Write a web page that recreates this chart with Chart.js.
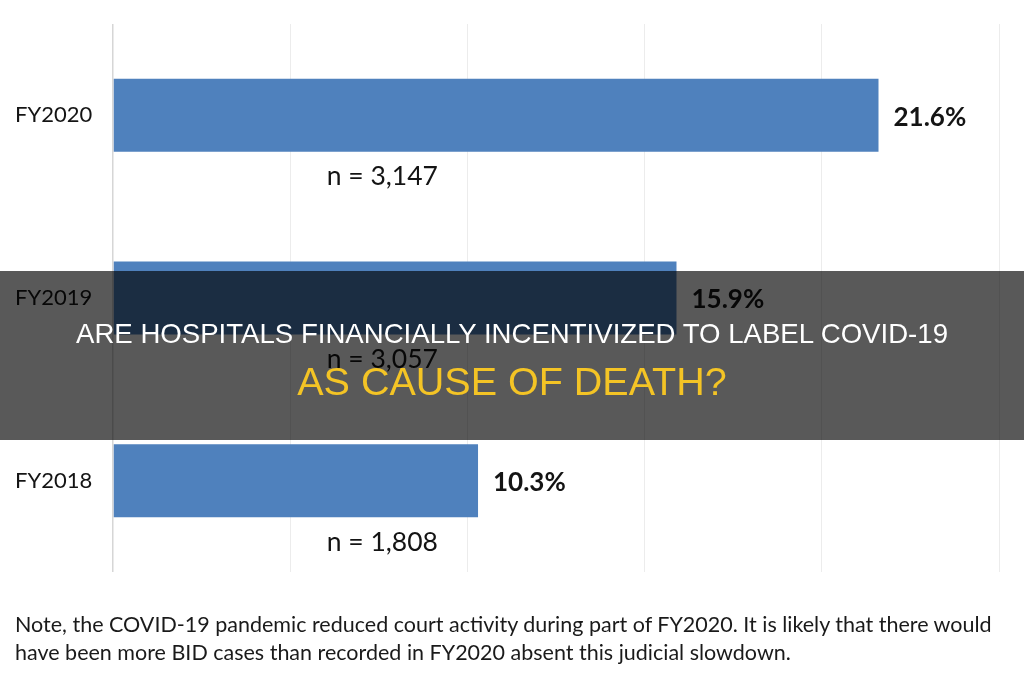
<!DOCTYPE html>
<html lang="en">
<head>
  <meta charset="UTF-8" />
  <title>BID cases by fiscal year</title>
  <script src="https://cdn.jsdelivr.net/npm/chart.js"></script>
  <style>
    body { margin: 0; background: #fff; font-family: Lato, sans-serif; }
    .wrap { position: relative; width: 1024px; height: 680px; overflow: hidden; }
    #bidChart { position: absolute; left: 0; top: 0; }
    /* dark title strip laid over the chart */
    .banner {
      position: absolute; left: 0; top: 271px; width: 1024px; height: 169px;
      background: rgba(0, 0, 0, 0.65);
      font-family: "Liberation Sans", Arial, sans-serif; text-align: center;
    }
    .banner .l1 { position: absolute; left: 0; right: 0; top: 49px; font-size: 27.6px; line-height: 27px; color: #fff; }
    .banner .l2 { position: absolute; left: 0; right: 0; top: 91px; font-size: 39.5px; line-height: 38px; color: #f4c425; }
    .note {
      position: absolute; left: 15px; top: 610px; font-size: 21.5px; line-height: 28px;
      color: #1a1a1a; white-space: nowrap;
    }
  </style>
</head>
<body>
  <div class="wrap">
    <canvas id="bidChart" width="1024" height="680"></canvas>
    <div class="note">Note, the COVID-19 pandemic reduced court activity during part of FY2020. It is likely that there would<br>have been more BID cases than recorded in FY2020 absent this judicial slowdown.</div>
    <div class="banner">
      <div class="l1">ARE HOSPITALS FINANCIALLY INCENTIVIZED TO LABEL COVID-19</div>
      <div class="l2">AS CAUSE OF DEATH?</div>
    </div>
  </div>

  <script>
    // chart data
    const categories = ['FY2020', 'FY2019', 'FY2018'];
    const shares = [21.6, 15.9, 10.3];
    const caseCounts = ['3,147', '3,057', '1,808'];
    const xTicks = [0, 5, 10, 15, 20, 25];
    const countLabelAt = 7.6; // where the "n = ..." notes sit on the x scale

    // draws "21.6%" after each bar and "n = ..." under it
    const barLabels = {
      id: 'barLabels',
      afterDatasetsDraw(chart) {
        const ctx = chart.ctx;
        const x = chart.scales.x;
        chart.getDatasetMeta(0).data.forEach((bar, i) => {
          ctx.save();
          ctx.fillStyle = '#141414';
          ctx.font = 'bold 26px Lato';
          ctx.textAlign = 'left';
          ctx.textBaseline = 'middle';
          ctx.fillText(shares[i].toFixed(1) + '%', bar.x + 15, bar.y + 2);
          ctx.font = '26.5px Lato';
          ctx.textAlign = 'center';
          ctx.textBaseline = 'alphabetic';
          ctx.fillText('n = ' + caseCounts[i], x.getPixelForValue(countLabelAt), bar.y + 70);
          ctx.restore();
        });
      }
    };

    new Chart(document.getElementById('bidChart'), {
      type: 'bar',
      data: {
        labels: categories,
        datasets: [{
          data: shares,
          backgroundColor: '#4f81bd',
          categoryPercentage: 0.8,
          barPercentage: 0.5
        }]
      },
      options: {
        indexAxis: 'y',
        responsive: false,
        animation: false,
        layout: { padding: { left: 15, right: 25, top: 24, bottom: 108 } },
        plugins: { legend: { display: false }, tooltip: { enabled: false } },
        scales: {
          x: {
            min: xTicks[0],
            max: xTicks[xTicks.length - 1],
            afterBuildTicks: s => { s.ticks = xTicks.map(v => ({ value: v })); },
            afterFit: s => { s.height = 0; },
            ticks: { display: false },
            grid: {
              drawTicks: false,
              color: c => c.tick && c.tick.value === 0 ? '#d6d6d6' : '#ececec',
              lineWidth: c => c.tick && c.tick.value === 0 ? 1.5 : 1
            },
            border: { display: false }
          },
          y: {
            afterFit: s => { s.width = 98; },
            ticks: { crossAlign: 'far', color: '#141414', font: { family: 'Lato', size: 22 } },
            grid: { display: false },
            border: { display: false }
          }
        }
      },
      plugins: [barLabels]
    });
  </script>
</body>
</html>
